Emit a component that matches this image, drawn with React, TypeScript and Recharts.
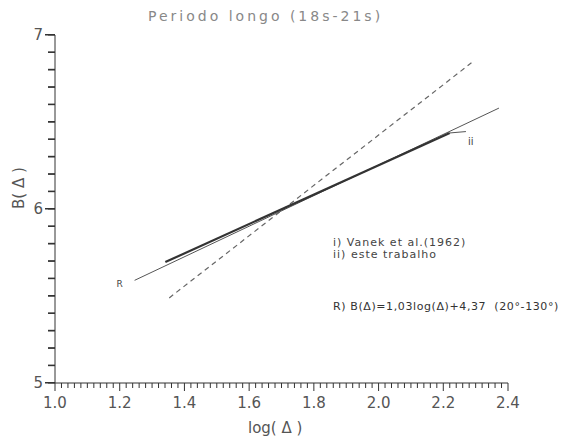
import React from 'react';
import { LineChart, Line, XAxis, YAxis, ReferenceDot } from 'recharts';

// values
const rLineX = [1.246, 2.372];
const rLineY = [5.59, 6.58];
const thisWorkX = [1.341, 2.22];
const thisWorkY = [5.695, 6.437];
const vanekX = [1.353, 2.287];
const vanekY = [5.489, 6.84];
const leaderX = [2.22, 2.27];
const leaderY = [6.437, 6.445];

const xMajor = [1.0, 1.2, 1.4, 1.6, 1.8, 2.0, 2.2, 2.4];
const xTicks = Array.from({ length: 71 }, (_, i) => +(1 + i * 0.02).toFixed(2));
const yMajor = [5, 6, 7];
const yTicks = Array.from({ length: 21 }, (_, i) => +(5 + i * 0.1).toFixed(1));

const toRows = (xs: number[], ys: number[]) => xs.map((x, i) => ({ x, y: ys[i] }));
const isMajor = (list: number[], v: number) => list.some((m) => Math.abs(m - v) < 1e-6);

const font = 'DejaVu Sans, sans-serif';
const ink = '#333';

// y here is axis + tickSize(5) + tickMargin(2)
const XTick = (props: any) => {
  const { x, y, payload } = props;
  const v = payload.value;
  if (!isMajor(xMajor, v)) return null;
  return (
    <g>
      <rect x={x - 0.5} y={y - 2} width={1} height={3} fill={ink} />
      <text x={x} y={y + 18} textAnchor="middle" fontSize={15} fill="#555" fontFamily={font}>
        {v.toFixed(1)}
      </text>
    </g>
  );
};

// x here is axis - tickSize(7) - tickMargin(2)
const YTick = (props: any) => {
  const { x, y, payload } = props;
  const v = payload.value;
  const major = isMajor(yMajor, v);
  return (
    <g>
      <rect x={x - (major ? 1 : -2)} y={y - 1} width={major ? 10 : 7} height={1.5} fill={ink} />
      {major && (
        <text x={x - 3} y={y + 5} textAnchor="end" fontSize={15} fill="#555" fontFamily={font}>
          {v}
        </text>
      )}
    </g>
  );
};

export default function App() {
  return (
    <div style={{ width: 579, height: 440, margin: '-8px 0 0 -8px', position: 'relative' }}>
      <LineChart width={579} height={440} margin={{ top: 35, right: 71, bottom: 27, left: 0 }}>
        <XAxis
          type="number"
          dataKey="x"
          domain={[1.0, 2.4]}
          ticks={xTicks}
          interval={0}
          tick={<XTick />}
          tickSize={5}
          stroke={ink}
          height={30}
        />
        <YAxis
          type="number"
          dataKey="y"
          domain={[5, 7]}
          ticks={yTicks}
          interval={0}
          tick={<YTick />}
          tickSize={7}
          stroke={ink}
          width={55}
          label={{ value: 'B( Δ )', angle: -90, position: 'insideLeft', dx: 14, fontSize: 15, fill: '#555', fontFamily: font }}
        />
        <Line data={toRows(vanekX, vanekY)} dataKey="y" stroke="#666" strokeWidth={1.2} strokeDasharray="5 4" dot={false} isAnimationActive={false} />
        <Line data={toRows(rLineX, rLineY)} dataKey="y" stroke="#555" strokeWidth={1} dot={false} isAnimationActive={false} />
        <Line data={toRows(thisWorkX, thisWorkY)} dataKey="y" stroke="#333" strokeWidth={2.2} dot={false} isAnimationActive={false} />
        <Line data={toRows(leaderX, leaderY)} dataKey="y" stroke="#555" strokeWidth={1} dot={false} isAnimationActive={false} />
        <ReferenceDot x={1.2} y={5.57} r={0} fill="none" stroke="none"
          label={{ value: 'R', fontSize: 9, fill: '#444', fontFamily: font }} />
        <ReferenceDot x={2.285} y={6.39} r={0} fill="none" stroke="none"
          label={{ value: 'ii', fontSize: 10, fill: '#444', fontFamily: font }} />
      </LineChart>
      <div style={{ position: 'absolute', left: 148, top: 8, fontFamily: font, fontSize: 14, color: '#888', letterSpacing: 3, whiteSpace: 'nowrap' }}>
        Periodo longo (18s-21s)
      </div>
      <div style={{ position: 'absolute', left: 333, top: 237, fontFamily: font, fontSize: 11, color: '#444', lineHeight: '12px', letterSpacing: 1, whiteSpace: 'nowrap' }}>
        <div>i) Vanek et al.(1962)</div>
        <div>ii) este trabalho</div>
      </div>
      <div style={{ position: 'absolute', left: 333, top: 300, fontFamily: font, fontSize: 11, color: '#333', letterSpacing: 0.6, whiteSpace: 'nowrap' }}>
        R) B(Δ)=1,03log(Δ)+4,37&nbsp;&nbsp;(20°-130°)
      </div>
      <div style={{ position: 'absolute', left: 248, top: 419, fontFamily: font, fontSize: 15, color: '#555', whiteSpace: 'nowrap' }}>
        log( Δ )
      </div>
    </div>
  );
}
